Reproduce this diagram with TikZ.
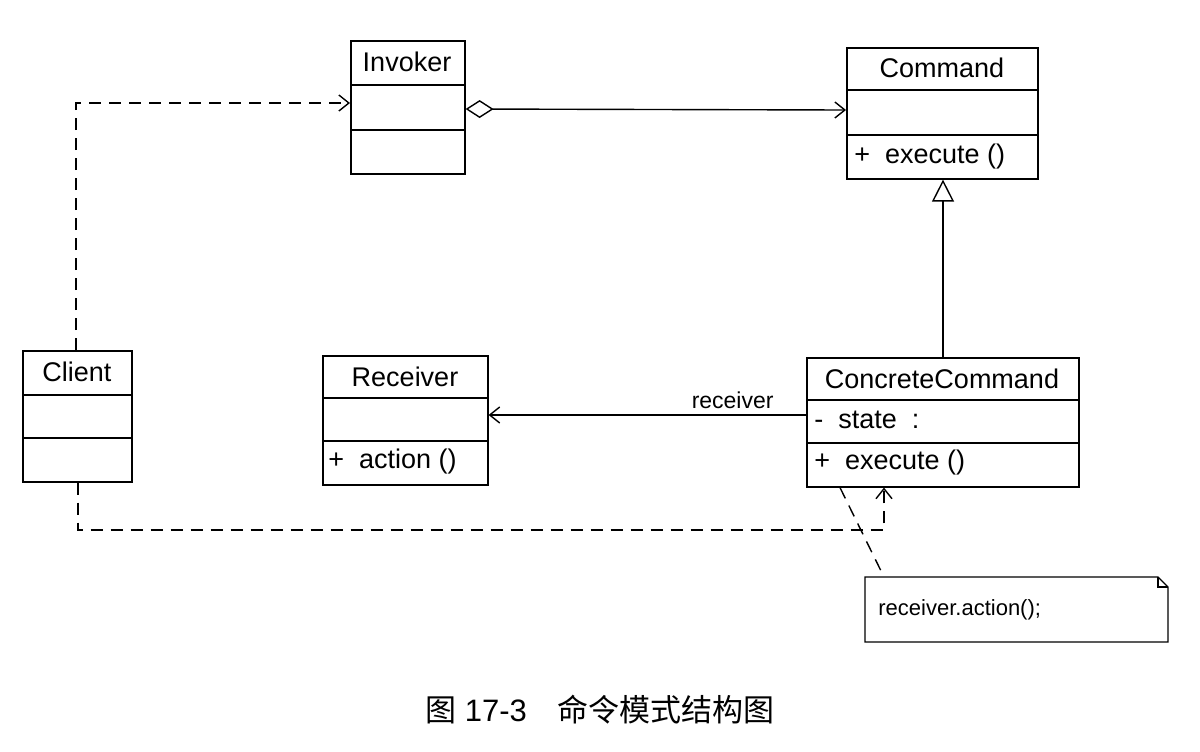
\documentclass[tikz,border=0pt]{standalone}
\usepackage{fontspec}
\setmainfont{Liberation Sans}
\newfontfamily\cjk{Noto Sans CJK SC}
\usetikzlibrary{positioning,shapes,arrows.meta}

\begin{document}
\begin{tikzpicture}[
        x=0.5pt, y=-0.5pt,
        every node/.style={inner sep=0pt},
        umlbox/.style={rectangle, draw, line width=0.8pt},
        title/.style={font=\fontsize{13.5}{15}\selectfont},
        member/.style={font=\fontsize{13.5}{15}\selectfont, anchor=west},
        dep/.style={dashed, dash pattern=on 6pt off 4pt, line width=0.7pt, -{Straight Barb[length=5pt,width=8pt]}},
        assoc/.style={line width=0.7pt, -{Straight Barb[length=5pt,width=8pt]}}
    ]
        \useasboundingbox (0,0) rectangle (1200,751);

        % boxes
        \node[umlbox, minimum width=57pt, minimum height=66.5pt, anchor=north west] (invoker) at (350,40) {};
        \node[umlbox, minimum width=95.5pt, minimum height=65.5pt, anchor=north west] (command) at (846,47) {};
        \node[umlbox, minimum width=54.5pt, minimum height=65.5pt, anchor=north west] (client) at (22,350) {};
        \node[umlbox, minimum width=82.5pt, minimum height=64.5pt, anchor=north west] (receiver) at (322,355) {};
        \node[umlbox, minimum width=136pt, minimum height=64.5pt, anchor=north west] (concrete) at (806,357) {};

        % compartments
        \draw[line width=0.8pt] (350,85) -- (464,85) (350,130) -- (464,130);
        \draw[line width=0.8pt] (846,90) -- (1037,90) (846,135) -- (1037,135);
        \draw[line width=0.8pt] (22,395) -- (131,395) (22,438) -- (131,438);
        \draw[line width=0.8pt] (322,398) -- (487,398) (322,441) -- (487,441);
        \draw[line width=0.8pt] (806,400) -- (1078,400) (806,443) -- (1078,443);

        % texts
        \node[title] at (407,62) {Invoker};
        \node[title] at (942,68) {Command};
        \node[member] at (854,157) {+\ \ execute ()};
        \node[title] at (77,372) {Client};
        \node[title] at (405,377) {Receiver};
        \node[member] at (328,462) {+\ \ action ()};
        \node[title] at (942,379) {ConcreteCommand};
        \node[member] at (814,420) {-\ \ state\ \ :};
        \node[member] at (814,463) {+\ \ execute ()};

        % note
        \node[minimum width=151.5pt, minimum height=32.5pt, anchor=north west] (note) at (865,577) {};
        \draw[line width=0.7pt] (865,577) -- (1158,577) -- (1168,587) -- (1168,642) -- (865,642) -- cycle;
        \draw[line width=0.7pt] (1158,577) -- (1158,587) -- (1168,587);
        \node[font=\fontsize{11}{13}\selectfont, anchor=west] at (878,610) {receiver.action();};

        % connectors
        \draw[dep] (client.north -| 76,0) |- (invoker.west |- 0,103);
        \draw[line width=0.7pt, {Diamond[open,length=14pt,width=9pt]}-{Straight Barb[length=5pt,width=8pt]}]
            (invoker.east |- 0,109) -- (command.west |- 0,110);
        \draw[line width=0.7pt, -{Triangle[open,length=11pt,width=11pt]}] (concrete.north -| 943,0) -- (command.south -| 943,0);
        \draw[assoc] (concrete.west |- 0,415) -- node[pos=0.1, above=3pt, anchor=south east, font=\fontsize{11.5}{13}\selectfont] {receiver} (receiver.east |- 0,415);
        \draw[dep] (client.south -| 78,0) -- (78,530) -| (concrete.south -| 884,0);
        \draw[dashed, dash pattern=on 6pt off 4pt, line width=0.7pt] (concrete.south -| 840,0) -- (note.north -| 884,0);

        % caption
        \node[font=\fontsize{15.5}{18}\selectfont] (caption) at (600,710) {{\cjk 图} 17-3\quad {\cjk 命令模式结构图}};
    \end{tikzpicture}
\end{document}
